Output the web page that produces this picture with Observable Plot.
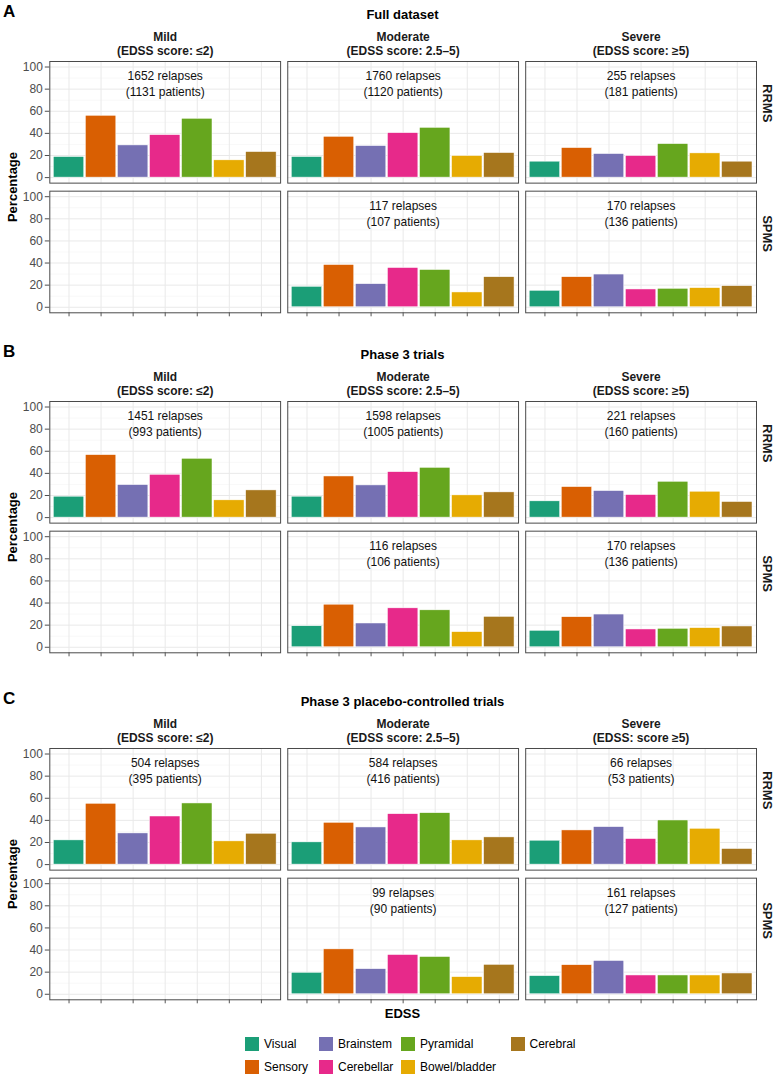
<!DOCTYPE html>
<html><head><meta charset="utf-8">
<script src="https://cdn.jsdelivr.net/npm/d3@7"></script>
<script src="https://cdn.jsdelivr.net/npm/@observablehq/plot@0.6"></script>
<style>
body{margin:0;background:#fff;font-family:"Liberation Sans",Arial,Helvetica,sans-serif;color:#000;}
#root{position:relative;width:776px;height:1078px;overflow:hidden;background:#fff;}
.abs{position:absolute;line-height:1;white-space:nowrap;}
.letter{font-weight:bold;font-size:17px;left:3px;transform:translateY(-50%);}
.title{font-weight:bold;font-size:13px;left:49px;width:707px;text-align:center;transform:translateY(-50%);}
.ylab{font-weight:bold;font-size:13px;left:12px;transform:translate(-50%,-50%) rotate(-90deg);}
.xlab{font-weight:bold;font-size:13px;left:49px;width:707px;text-align:center;transform:translateY(-50%);}
.sw{width:16px;height:16px;box-sizing:border-box;border:1px solid #fff;transform:translateY(-50%);}
.lt{font-size:12px;transform:translateY(-50%);}
svg{position:absolute;left:0;}
</style>
</head><body><div id="root"></div>
<script>
// ---- data ----
const domains = ["Visual","Sensory","Brainstem","Cerebellar","Pyramidal","Bowel/bladder","Cerebral"];
const colors = ["#1B9E77","#D95F02","#7570B3","#E7298A","#66A61E","#E6AB02","#A6761D"];
const severities = ["Mild","Moderate","Severe"];
const msTypes = ["RRMS","SPMS"];
const yTicks = [0,20,40,60,80,100];
const yMinor = [10,30,50,70,90];

const sectionLetters = ["A","B","C"];
const sectionTitles = ["Full dataset","Phase 3 trials","Phase 3 placebo-controlled trials"];
const stripLabelsAB = ["Mild\n(EDSS score: \u22642)","Moderate\n(EDSS score: 2.5\u20135)","Severe\n(EDSS score: \u22655)"];
const stripLabelsC = ["Mild\n(EDSS score: \u22642)","Moderate\n(EDSS score: 2.5\u20135)","Severe\n(EDSS: score \u22655)"];

// A: full dataset
const a_rrms_mild = [18.6, 55.9, 29.1, 38.4, 53.2, 15.6, 23.1];
const a_rrms_mod  = [18.6, 36.9, 28.5, 40.2, 45.0, 19.5, 22.2];
const a_rrms_sev  = [14.4, 26.7, 21.3, 19.5, 30.3, 21.9, 14.4];
const a_spms_mod  = [18.5, 38.2, 20.9, 35.5, 33.7, 13.4, 27.2];
const a_spms_sev  = [14.9, 27.2, 29.6, 16.1, 16.7, 17.3, 19.1];
// B: phase 3 trials
const b_rrms_mild = [18.9, 56.5, 29.4, 38.7, 53.2, 15.6, 24.6];
const b_rrms_mod  = [18.9, 37.2, 29.1, 41.1, 45.0, 20.1, 22.8];
const b_rrms_sev  = [14.7, 27.6, 24.0, 20.4, 32.4, 23.4, 14.1];
const b_spms_mod  = [19.0, 38.5, 21.5, 35.2, 33.4, 13.7, 27.5];
const b_spms_sev  = [14.9, 27.2, 29.6, 16.1, 16.7, 17.3, 18.8];
// C: phase 3 placebo-controlled trials
const c_rrms_mild = [21.9, 55.0, 28.2, 43.5, 55.3, 21.0, 27.9];
const c_rrms_mod  = [20.1, 37.8, 33.6, 45.6, 46.5, 21.9, 24.6];
const c_rrms_sev  = [21.6, 30.9, 33.9, 23.1, 39.9, 32.4, 14.1];
const c_spms_mod  = [19.4, 40.6, 22.7, 35.5, 33.7, 15.5, 26.6];
const c_spms_sev  = [16.4, 26.3, 30.1, 17.0, 17.0, 17.0, 18.8];

// relapses / patients per panel: [RRMS Mild, RRMS Moderate, RRMS Severe, SPMS Mild, SPMS Moderate, SPMS Severe]
const a_relapses = [1652, 1760, 255, null, 117, 170];
const a_patients = [1131, 1120, 181, null, 107, 136];
const b_relapses = [1451, 1598, 221, null, 116, 170];
const b_patients = [993, 1005, 160, null, 106, 136];
const c_relapses = [504, 584, 66, null, 99, 161];
const c_patients = [395, 416, 53, null, 90, 127];

const sections = [
  {series: [[a_rrms_mild, a_rrms_mod, a_rrms_sev],[null, a_spms_mod, a_spms_sev]], rel: a_relapses, pat: a_patients, strips: stripLabelsAB},
  {series: [[b_rrms_mild, b_rrms_mod, b_rrms_sev],[null, b_spms_mod, b_spms_sev]], rel: b_relapses, pat: b_patients, strips: stripLabelsAB},
  {series: [[c_rrms_mild, c_rrms_mod, c_rrms_sev],[null, c_spms_mod, c_spms_sev]], rel: c_relapses, pat: c_patients, strips: stripLabelsC}
];

// ---- layout ----
const FONT = '"Liberation Sans", Arial, Helvetica, sans-serif';
const panelTops = [61, 401, 748];
const MT = 39, INNER = 251.3, MB = 12;
const root = document.getElementById("root");

function addDiv(cls, text, top, left) {
  const d = document.createElement("div");
  d.className = "abs " + cls;
  d.textContent = text;
  d.style.top = top + "px";
  if (left != null) d.style.left = left + "px";
  root.appendChild(d);
  return d;
}

sections.forEach((sec, si) => {
  const pt = panelTops[si];
  const rows = [];
  sec.series.forEach((row, ri) => row.forEach((vals, ci) => {
    if (!vals) return;
    vals.forEach((v, k) => rows.push({ms: msTypes[ri], sev: severities[ci], domain: domains[k], value: v}));
  }));
  const annots = [];
  msTypes.forEach((ms, ri) => severities.forEach((sev, ci) => {
    const j = ri * 3 + ci;
    annots.push({ms, sev, text: sec.rel[j] == null ? "" : `${sec.rel[j]} relapses\n(${sec.pat[j]} patients)`});
  }));

  const chart = Plot.plot({
    width: 776, height: MT + INNER + MB,
    marginLeft: 49.3, marginRight: 20, marginTop: MT, marginBottom: MB,
    style: {fontFamily: FONT, background: "transparent", overflow: "visible"},
    fx: {domain: severities, paddingInner: 0.03, paddingOuter: 0, round: false, axis: null},
    fy: {domain: msTypes, paddingInner: 0.062, paddingOuter: 0, round: false, axis: null},
    x: {domain: domains, paddingInner: 0.05, paddingOuter: 0.125, round: false},
    y: {domain: [-5, 105]},
    color: {domain: domains, range: colors},
    marks: [
      Plot.ruleY(yMinor, {stroke: "#f3f3f3", strokeWidth: 0.6}),
      Plot.gridY(yTicks, {stroke: "#e9e9e9", strokeOpacity: 1, strokeWidth: 1}),
      Plot.gridX({stroke: "#e9e9e9", strokeOpacity: 1, strokeWidth: 1}),
      Plot.barY(rows, {fx: "sev", fy: "ms", x: "domain", y: "value", fill: "domain", stroke: "white", strokeWidth: 0.5}),
      Plot.text(annots, {fx: "sev", fy: "ms", text: "text", frameAnchor: "top", dy: 21.7, lineAnchor: "middle", lineHeight: 1.333, fontSize: 12, fill: "#111"}),
      Plot.frame({stroke: "#4a4a4a", strokeWidth: 1}),
      Plot.axisY(yTicks, {tickSize: 4.5, tickPadding: 2.5, fontSize: 12, color: "#4d4d4d", label: null}),
      Plot.axisX({tickSize: 4, tickFormat: () => "", label: null, color: "#555"}),
      Plot.text(severities, {fx: d => d, fy: () => "RRMS", text: (d, i) => sec.strips[i], frameAnchor: "top", dy: -18, lineAnchor: "middle", lineHeight: 1.1667, fontSize: 12, fontWeight: "bold", fill: "#1a1a1a"}),
      Plot.text(msTypes, {fx: () => "Severe", fy: d => d, text: d => d, frameAnchor: "right", dx: 11, rotate: 90, fontSize: 13, fontWeight: "bold", fill: "#1a1a1a"})
    ]
  });
  chart.style.top = (pt - MT) + "px";
  root.appendChild(chart);

  addDiv("letter", sectionLetters[si], pt - 50);
  addDiv("title", sectionTitles[si], pt - 47.5);
  addDiv("ylab", "Percentage", pt + INNER / 2);
});

addDiv("xlab", "EDSS", 1013);

// legend
const legX = [244, 318, 400, 509.5];
const legY = [1043.5, 1066.5];
domains.forEach((d, i) => {
  const col = Math.floor(i / 2), row = i % 2;
  const sw = addDiv("sw", "", legY[row], legX[col]);
  sw.style.background = colors[i];
  addDiv("lt", d, legY[row], legX[col] + 20);
});
</script>
</body></html>
